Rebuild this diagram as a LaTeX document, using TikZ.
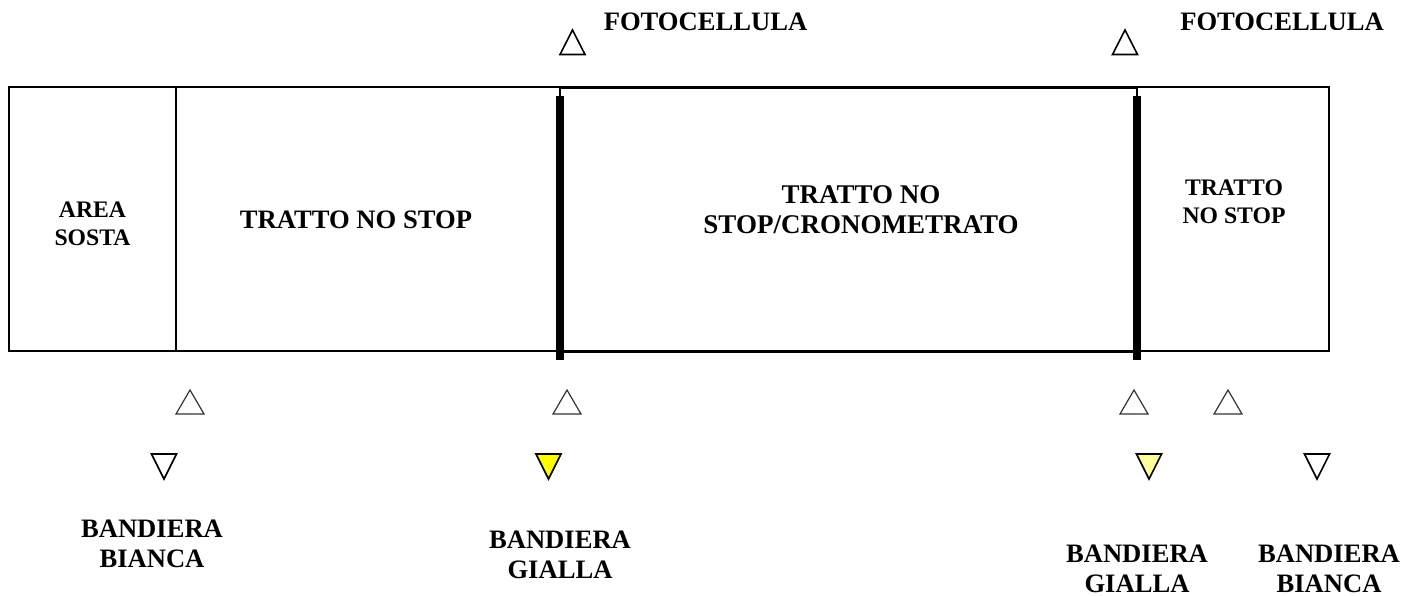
\documentclass[tikz,border=0pt]{standalone}
\usepackage{fontspec}
\setmainfont{Liberation Serif}
\tikzset{
  lbl/.style={font=\fontsize{26.6}{30}\selectfont\bfseries, align=center, inner sep=0pt, text=black},
  lblwide/.style={font=\fontsize{27}{30}\selectfont\bfseries, align=center, inner sep=0pt, text=black},
  lblsmall/.style={font=\fontsize{23.7}{28}\selectfont\bfseries, align=center, inner sep=0pt, text=black},
  zone/.style={draw=black, line width=2pt},
  heavy/.style={draw=black, line width=3pt},
  post/.style={draw=black, line width=8pt},
  tip/.style={draw=black, line width=2.5pt, line cap=butt},
  tri/.style={draw=black, line width=1.6pt, line join=miter},
  trithin/.style={draw=black!80, line width=1.2pt, line join=miter},
}
\begin{document}
\begin{tikzpicture}[x=1pt,y=-1pt]
\useasboundingbox (0,0) rectangle (1415,595);
% outer frame and divider
\draw[zone] (9,87) rectangle (1329,351);
\draw[zone] (176,87) -- (176,351);
% timed section
\draw[heavy] (560,87) -- (1137,87);
\draw[heavy] (560,351) -- (1137,351);
\draw[tip] (560,87) -- (560,97);
\draw[tip] (1137,87) -- (1137,97);
\draw[post] (560,96) -- (560,360);
\draw[post] (1137,96) -- (1137,360);
% top triangles
\draw[tri] (572.5,30) -- (585,54.5) -- (560,54.5) -- cycle;
\draw[tri] (1125,30) -- (1137.5,54.5) -- (1112.5,54.5) -- cycle;
% lower up triangles
\draw[trithin] (190,390) -- (204,414) -- (176,414) -- cycle;
\draw[trithin] (567,390) -- (581,414) -- (553,414) -- cycle;
\draw[trithin] (1134,390) -- (1148,414) -- (1120,414) -- cycle;
\draw[trithin] (1228,390) -- (1242,414) -- (1214,414) -- cycle;
% down triangles
\draw[tri] (151.5,454) -- (176.5,454) -- (164,479) -- cycle;
\draw[tri,fill={rgb,255:red,255;green,255;blue,0}] (536,454) -- (561,454) -- (548.5,479) -- cycle;
\draw[tri,fill={rgb,255:red,255;green,255;blue,153}] (1136.5,454) -- (1161.5,454) -- (1149,479) -- cycle;
\draw[tri] (1304.5,454) -- (1329.5,454) -- (1317,479) -- cycle;
% labels
\node[lbl] (foto1) at (705.5,21.5) {FOTOCELLULA};
\begin{scope}
\clip (1150,0) rectangle (1415,29);
\node[lbl] (foto2) at (1282,21.5) {FOTOCELLULA};
\end{scope}
\node[lblsmall] (area) at (92.5,223.5) {AREA\\SOSTA};
\node[lbl] (ns1) at (356,220) {TRATTO NO STOP};
\node[lblwide] (crono) at (861,210) {TRATTO NO\\STOP/CRONOMETRATO};
\node[lblsmall] (ns2) at (1234,202) {TRATTO\\NO STOP};
\node[lbl] (b1) at (152,544) {BANDIERA\\BIANCA};
\node[lbl] (b2) at (560,555) {BANDIERA\\GIALLA};
\node[lbl] (b3) at (1137,569) {BANDIERA\\GIALLA};
\node[lbl] (b4) at (1329,569) {BANDIERA\\BIANCA};
\end{tikzpicture}
\end{document}
